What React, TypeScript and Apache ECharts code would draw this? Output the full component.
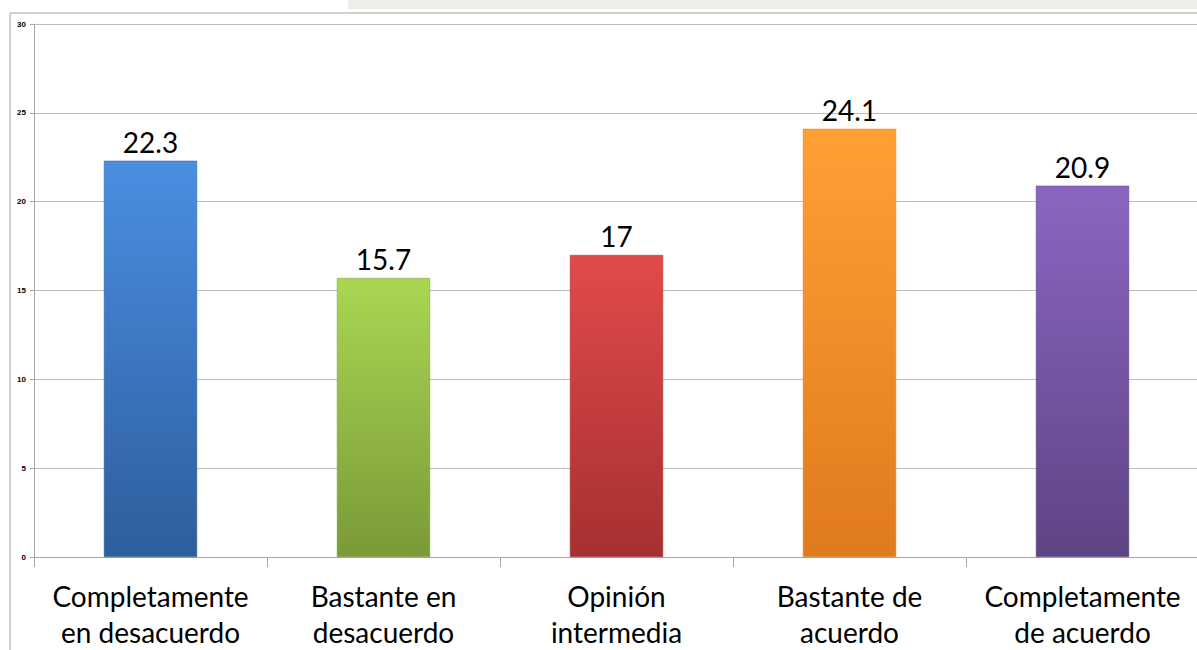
import React, { useEffect, useRef } from "react";
import * as echarts from "echarts";

const categories = [
  "Completamente\nen desacuerdo",
  "Bastante en\ndesacuerdo",
  "Opinión\nintermedia",
  "Bastante de\nacuerdo",
  "Completamente\nde acuerdo",
];
const values = [22.3, 15.7, 17, 24.1, 20.9];
const valueLabels = ["22.3", "15.7", "17", "24.1", "20.9"];
const barColors = [
  ["#4a8fe2", "#2e5d9c"],
  ["#aad652", "#7a9a38"],
  ["#e24a4a", "#a63030"],
  ["#ffa035", "#e07a1e"],
  ["#8a66c2", "#5e4484"],
];
const yTicks = [0, 5, 10, 15, 20, 25, 30];

export default function App() {
  const ref = useRef<HTMLDivElement>(null);
  useEffect(() => {
    const chart = echarts.init(ref.current!, null, { renderer: "svg" });
    chart.setOption({
      animation: false,
      backgroundColor: "#ffffff",
      graphic: [
        { type: "line", shape: { x1: 10, y1: 13, x2: 1197, y2: 13 }, style: { stroke: "#cfcfcf", lineWidth: 2 } },
        { type: "line", shape: { x1: 10, y1: 13, x2: 10, y2: 650 }, style: { stroke: "#cfcfcf", lineWidth: 2 } },
        { type: "rect", shape: { x: 348, y: 0, width: 849, height: 9 }, style: { fill: "#eceeea" } },
      ],
      grid: { left: 34, right: -2, top: 24, bottom: 93, containLabel: false, outerBoundsMode: "none" },
      xAxis: {
        type: "category",
        data: categories,
        axisLine: { lineStyle: { color: "#a6a6a6", width: 1 } },
        axisTick: { show: true, length: 10, lineStyle: { color: "#a6a6a6" } },
        axisLabel: {
          interval: 0,
          color: "#000",
          fontFamily: "Lato",
          fontSize: 28,
          lineHeight: 36,
          margin: 21,
        },
      },
      yAxis: {
        type: "value",
        min: yTicks[0],
        max: yTicks[yTicks.length - 1],
        interval: 5,
        axisLine: { show: true, lineStyle: { color: "#a6a6a6", width: 1 } },
        axisTick: { show: true, length: 4, lineStyle: { color: "#a6a6a6" } },
        axisLabel: {
          color: "#000",
          fontSize: 8,
          fontWeight: "bold",
          fontFamily: "Liberation Sans",
          margin: 8,
        },
        splitLine: { lineStyle: { color: "#bdbdbd", width: 1 } },
      },
      series: [
        {
          type: "bar",
          barWidth: "40%",
          data: values.map((v, i) => ({
            value: v,
            itemStyle: {
              color: new echarts.graphic.LinearGradient(0, 0, 0, 1, [
                { offset: 0, color: barColors[i][0] },
                { offset: 1, color: barColors[i][1] },
              ]),
              borderColor: barColors[i][1],
              borderWidth: 0.5,
            },
            label: {
              show: true,
              position: "top",
              distance: 5,
              formatter: valueLabels[i],
              color: "#000",
              fontFamily: "Lato",
              fontSize: 28,
            },
          })),
        },
      ],
    });
    return () => chart.dispose();
  }, []);
  return <div ref={ref} style={{ width: 1197, height: 650, position: "absolute", left: 0, top: 0 }} />;
}
